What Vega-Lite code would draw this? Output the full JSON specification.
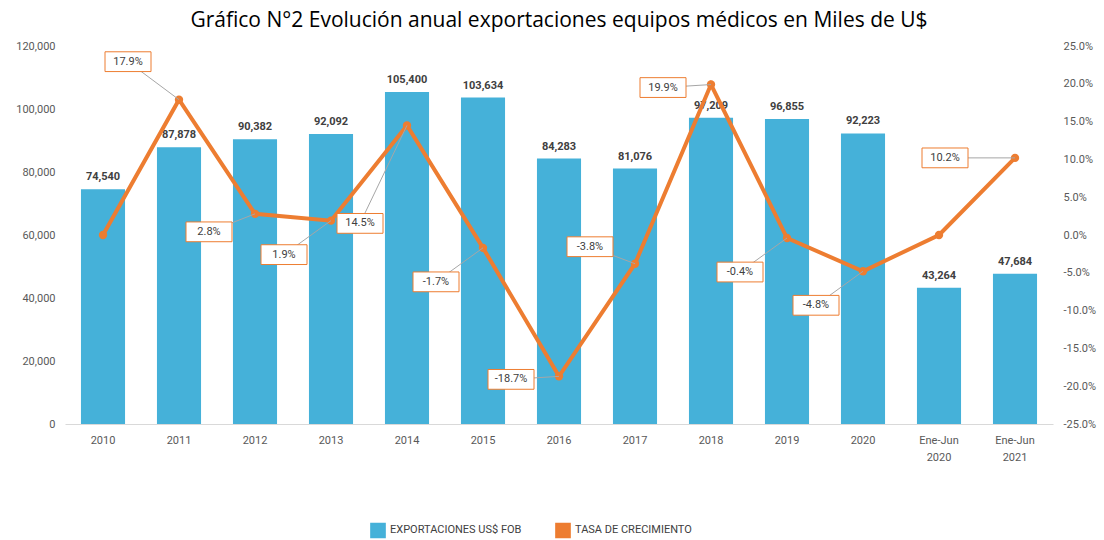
{
  "$schema": "https://vega.github.io/schema/vega-lite/v6.json",
  "autosize": {"type": "none"},
  "width": 988,
  "height": 378,
  "padding": {"left": 65, "top": 46, "right": 51, "bottom": 116},
  "background": "white",
  "config": {
    "view": {"stroke": null},
    "font": "Roboto",
    "locale": {"number": {"decimal": ".", "thousands": ",", "grouping": [3], "currency": ["$", ""], "minus": "-"}},
    "axis": {"labelColor": "#595959", "labelFont": "Roboto", "labelFontSize": 11, "ticks": false, "grid": false, "domain": false, "title": null}
  },
  "title": {
    "text": "Gráfico N°2 Evolución anual exportaciones equipos médicos en Miles de U$",
    "font": "Open Sans",
    "fontSize": 21,
    "fontWeight": "normal",
    "color": "#000000",
    "anchor": "middle",
    "offset": 9
  },
  "data": {
    "values": [
      {"year": "2010", "exp": 74540, "pct": 0.0},
      {"year": "2011", "exp": 87878, "pct": 0.179},
      {"year": "2012", "exp": 90382, "pct": 0.028},
      {"year": "2013", "exp": 92092, "pct": 0.019},
      {"year": "2014", "exp": 105400, "pct": 0.145},
      {"year": "2015", "exp": 103634, "pct": -0.017},
      {"year": "2016", "exp": 84283, "pct": -0.187},
      {"year": "2017", "exp": 81076, "pct": -0.038},
      {"year": "2018", "exp": 97209, "pct": 0.199},
      {"year": "2019", "exp": 96855, "pct": -0.004},
      {"year": "2020", "exp": 92223, "pct": -0.048},
      {"year": "Ene-Jun 2020", "exp": 43264, "pct": 0.0},
      {"year": "Ene-Jun 2021", "exp": 47684, "pct": 0.102}
    ]
  },
  "encoding": {
    "x": {
      "field": "year", "type": "ordinal", "sort": null,
      "scale": {"paddingInner": 0.42, "paddingOuter": 0.21},
      "axis": {"domain": true, "domainColor": "#d9d9d9", "labelAngle": 0, "labelPadding": 10, "labelLineHeight": 17, "labelExpr": "split(datum.label, ' ')"}
    }
  },
  "layer": [
    {
      "layer": [
        {
          "mark": {"type": "bar", "color": "#45B1D9"},
          "encoding": {
            "y": {"field": "exp", "type": "quantitative", "scale": {"domain": [0, 120000]},
              "axis": {"values": [0, 20000, 40000, 60000, 80000, 100000, 120000], "format": ",d", "labelPadding": 10}},
            "color": {
              "datum": "EXPORTACIONES US$ FOB",
              "scale": {"domain": ["EXPORTACIONES US$ FOB", "TASA DE CRECIMIENTO"], "range": ["#45B1D9", "#ED7D31"]},
              "legend": {"orient": "none", "legendX": 305, "legendY": 476, "direction": "horizontal", "title": null, "symbolType": "square", "labelFontSize": 11, "labelColor": "#404040", "columnPadding": 30, "symbolSize": 200}
            }
          }
        },
        {
          "mark": {"type": "text", "dy": -12, "fontWeight": "bold", "fontSize": 11, "color": "#404040"},
          "encoding": {
            "y": {"field": "exp", "type": "quantitative"},
            "text": {"field": "exp", "type": "quantitative", "format": ",d"}
          }
        }
      ]
    },
    {
      "encoding": {
        "y": {"field": "pct", "type": "quantitative", "scale": {"domain": [-0.25, 0.25]},
          "axis": {"orient": "right", "values": [-0.25, -0.2, -0.15, -0.1, -0.05, 0, 0.05, 0.1, 0.15, 0.2, 0.25], "format": ".1%", "labelPadding": 10}}
      },
      "layer": [
        {
          "mark": {"type": "line", "strokeWidth": 4, "point": {"filled": true, "size": 70, "color": "#ED7D31"}},
          "encoding": {"color": {"datum": "TASA DE CRECIMIENTO"}}
        },
        {
          "transform": [{"filter": {"field": "year", "oneOf": ["2013", "2015", "2019", "2020"]}}],
          "layer": [
            {"mark": {"type": "rule", "color": "#a6a6a6", "strokeWidth": 1, "x2Offset": -47, "y2Offset": 34},
              "encoding": {"x2": {"field": "year"}, "y2": {"field": "pct"}}},
            {"mark": {"type": "point", "shape": "M-1,-0.43H1V0.43H-1Z", "size": 2116, "filled": true, "fill": "white", "stroke": "#ED7D31", "strokeWidth": 1, "opacity": 1, "xOffset": -47, "yOffset": 34}, "encoding": {}},
            {"mark": {"type": "text", "fontSize": 11, "color": "#404040", "xOffset": -47, "yOffset": 34}, "encoding": {"text": {"field": "pct", "type": "quantitative", "format": ".1%"}}}
          ]
        },
        {
          "transform": [{"filter": {"field": "year", "oneOf": ["2012"]}}],
          "layer": [
            {"mark": {"type": "rule", "color": "#a6a6a6", "strokeWidth": 1, "x2Offset": -46, "y2Offset": 18},
              "encoding": {"x2": {"field": "year"}, "y2": {"field": "pct"}}},
            {"mark": {"type": "point", "shape": "M-1,-0.43H1V0.43H-1Z", "size": 2116, "filled": true, "fill": "white", "stroke": "#ED7D31", "strokeWidth": 1, "opacity": 1, "xOffset": -46, "yOffset": 18}, "encoding": {}},
            {"mark": {"type": "text", "fontSize": 11, "color": "#404040", "xOffset": -46, "yOffset": 18}, "encoding": {"text": {"field": "pct", "type": "quantitative", "format": ".1%"}}}
          ]
        },
        {
          "transform": [{"filter": {"field": "year", "oneOf": ["2014"]}}],
          "layer": [
            {"mark": {"type": "rule", "color": "#a6a6a6", "strokeWidth": 1, "x2Offset": -47, "y2Offset": 98},
              "encoding": {"x2": {"field": "year"}, "y2": {"field": "pct"}}},
            {"mark": {"type": "point", "shape": "M-1,-0.43H1V0.43H-1Z", "size": 2116, "filled": true, "fill": "white", "stroke": "#ED7D31", "strokeWidth": 1, "opacity": 1, "xOffset": -47, "yOffset": 98}, "encoding": {}},
            {"mark": {"type": "text", "fontSize": 11, "color": "#404040", "xOffset": -47, "yOffset": 98}, "encoding": {"text": {"field": "pct", "type": "quantitative", "format": ".1%"}}}
          ]
        },
        {
          "transform": [{"filter": {"field": "year", "oneOf": ["2016", "2018"]}}],
          "layer": [
            {"mark": {"type": "rule", "color": "#a6a6a6", "strokeWidth": 1, "x2Offset": -48, "y2Offset": 3},
              "encoding": {"x2": {"field": "year"}, "y2": {"field": "pct"}}},
            {"mark": {"type": "point", "shape": "M-1,-0.43H1V0.43H-1Z", "size": 2116, "filled": true, "fill": "white", "stroke": "#ED7D31", "strokeWidth": 1, "opacity": 1, "xOffset": -48, "yOffset": 3}, "encoding": {}},
            {"mark": {"type": "text", "fontSize": 11, "color": "#404040", "xOffset": -48, "yOffset": 3}, "encoding": {"text": {"field": "pct", "type": "quantitative", "format": ".1%"}}}
          ]
        },
        {
          "transform": [{"filter": {"field": "year", "oneOf": ["2011"]}}],
          "layer": [
            {"mark": {"type": "rule", "color": "#a6a6a6", "strokeWidth": 1, "x2Offset": -51, "y2Offset": -38},
              "encoding": {"x2": {"field": "year"}, "y2": {"field": "pct"}}},
            {"mark": {"type": "point", "shape": "M-1,-0.43H1V0.43H-1Z", "size": 2116, "filled": true, "fill": "white", "stroke": "#ED7D31", "strokeWidth": 1, "opacity": 1, "xOffset": -51, "yOffset": -38}, "encoding": {}},
            {"mark": {"type": "text", "fontSize": 11, "color": "#404040", "xOffset": -51, "yOffset": -38}, "encoding": {"text": {"field": "pct", "type": "quantitative", "format": ".1%"}}}
          ]
        },
        {
          "transform": [{"filter": {"field": "year", "oneOf": ["2017"]}}],
          "layer": [
            {"mark": {"type": "rule", "color": "#a6a6a6", "strokeWidth": 1, "x2Offset": -45, "y2Offset": -17},
              "encoding": {"x2": {"field": "year"}, "y2": {"field": "pct"}}},
            {"mark": {"type": "point", "shape": "M-1,-0.43H1V0.43H-1Z", "size": 2116, "filled": true, "fill": "white", "stroke": "#ED7D31", "strokeWidth": 1, "opacity": 1, "xOffset": -45, "yOffset": -17}, "encoding": {}},
            {"mark": {"type": "text", "fontSize": 11, "color": "#404040", "xOffset": -45, "yOffset": -17}, "encoding": {"text": {"field": "pct", "type": "quantitative", "format": ".1%"}}}
          ]
        },
        {
          "transform": [{"filter": {"field": "year", "oneOf": ["Ene-Jun 2021"]}}],
          "layer": [
            {"mark": {"type": "rule", "color": "#a6a6a6", "strokeWidth": 1, "x2Offset": -70, "y2Offset": 0},
              "encoding": {"x2": {"field": "year"}, "y2": {"field": "pct"}}},
            {"mark": {"type": "point", "shape": "M-1,-0.43H1V0.43H-1Z", "size": 2116, "filled": true, "fill": "white", "stroke": "#ED7D31", "strokeWidth": 1, "opacity": 1, "xOffset": -70, "yOffset": 0}, "encoding": {}},
            {"mark": {"type": "text", "fontSize": 11, "color": "#404040", "xOffset": -70, "yOffset": 0}, "encoding": {"text": {"field": "pct", "type": "quantitative", "format": ".1%"}}}
          ]
        }
      ]
    }
  ],
  "resolve": {"scale": {"y": "independent"}}
}
